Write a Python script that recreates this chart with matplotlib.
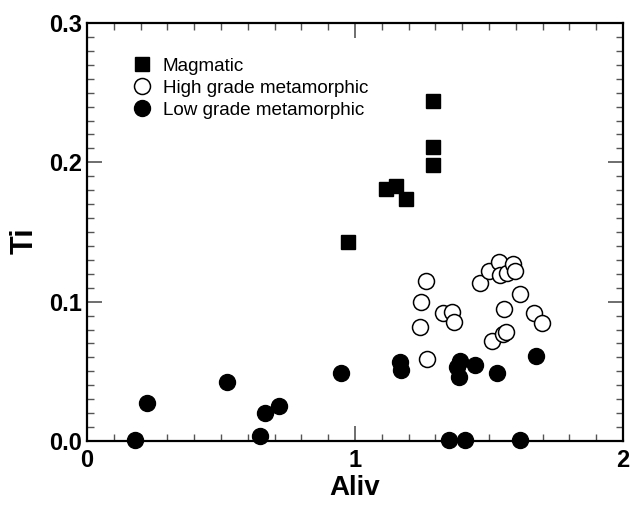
import matplotlib
matplotlib.use("Agg")
import matplotlib.pyplot as plt
from matplotlib.ticker import MultipleLocator, FormatStrFormatter

plt.rcParams["font.family"] = ["Liberation Sans", "DejaVu Sans"]

# Magmatic
mag_x = [0.975, 1.116, 1.153, 1.189, 1.292, 1.292, 1.292]
mag_y = [0.143, 0.181, 0.183, 0.174, 0.244, 0.211, 0.198]

# High grade metamorphic
high_x = [1.265, 1.247, 1.244, 1.270, 1.329, 1.362, 1.371, 1.466, 1.499, 1.536,
          1.542, 1.566, 1.588, 1.597, 1.615, 1.556, 1.668, 1.697, 1.511, 1.551, 1.562]
high_y = [0.1145, 0.0996, 0.0816, 0.0589, 0.0916, 0.0926, 0.0857, 0.1132, 0.1222, 0.1282,
          0.1192, 0.1209, 0.1271, 0.1218, 0.1058, 0.0945, 0.0916, 0.0845, 0.0718, 0.0768, 0.0785]

# Low grade metamorphic
low_x = [0.180, 0.223, 0.524, 0.646, 0.664, 0.718, 0.946, 1.168, 1.173, 1.392,
         1.382, 1.388, 1.447, 1.531, 1.675, 1.352, 1.412, 1.616]
low_y = [0.001, 0.027, 0.0426, 0.0036, 0.0203, 0.0251, 0.0486, 0.0569, 0.051, 0.0574,
         0.0529, 0.0462, 0.0543, 0.0486, 0.0613, 0.001, 0.0005, 0.001]

fig = plt.figure(figsize=(6.32, 5.05), dpi=100)
ax = fig.add_axes([0.1377, 0.1267, 0.8481, 0.8278])

ax.plot(mag_x, mag_y, "s", color="black", markersize=10, linestyle="none",
        label="Magmatic", clip_on=False)
ax.plot(high_x, high_y, "o", markerfacecolor="white", markeredgecolor="black",
        markeredgewidth=1.1, markersize=11.5, linestyle="none",
        label="High grade metamorphic", clip_on=False)
ax.plot(low_x, low_y, "o", color="black", markersize=11.5, linestyle="none",
        label="Low grade metamorphic", clip_on=False)

ax.set_xlim(0, 2)
ax.set_ylim(0, 0.3)
ax.xaxis.set_major_locator(MultipleLocator(1))
ax.xaxis.set_minor_locator(MultipleLocator(0.1))
ax.yaxis.set_major_locator(MultipleLocator(0.1))
ax.yaxis.set_minor_locator(MultipleLocator(0.01))
ax.xaxis.set_major_formatter(FormatStrFormatter("%d"))
ax.yaxis.set_major_formatter(FormatStrFormatter("%.1f"))

ax.tick_params(which="both", direction="in", top=True, right=True, color="#555555")
ax.tick_params(which="major", length=11, width=1.2, labelsize=17)
ax.tick_params(axis="x", which="major", pad=6)
ax.tick_params(axis="y", which="major", pad=3.5)
ax.tick_params(which="minor", length=5, width=1.0)
for lbl in ax.get_xticklabels() + ax.get_yticklabels():
    lbl.set_fontweight("bold")
for sp in ax.spines.values():
    sp.set_linewidth(1.6)

ax.set_xlabel("Aliv", fontsize=20, fontweight="bold")
ax.set_ylabel("Ti", fontsize=22, fontweight="bold")
ax.xaxis.set_label_coords(0.5, -0.082)
ax.yaxis.set_label_coords(-0.088, 0.48)

ax.legend(loc="upper left", bbox_to_anchor=(0.06, 0.935), frameon=False,
          fontsize=13.6, handletextpad=0.3, labelspacing=0.25, borderaxespad=0,
          handlelength=1.6)

fig.savefig("out.png", dpi=100)
